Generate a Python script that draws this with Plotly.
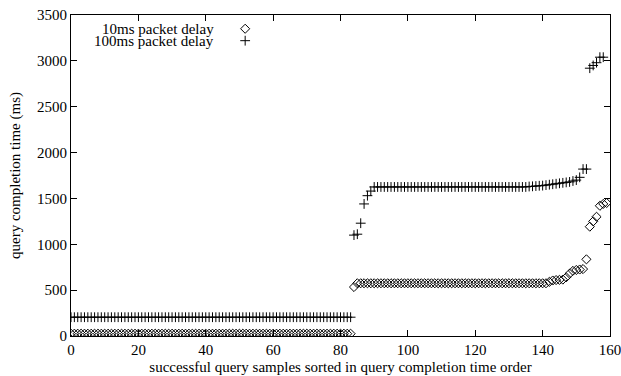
import plotly.graph_objects as go

# sample index 0..159
idx = list(range(160))

delay10 = ([25] * 84 + [534] + [575] * 57 +
           [590, 605, 610, 612, 615, 640, 680, 710, 720, 725, 730,
            836, 1192, 1250, 1300, 1420, 1440, 1450])

delay100 = ([205] * 84 + [1100, 1110, 1230, 1440, 1530, 1580] +
            [1625] * 46 +
            [1630, 1632, 1635, 1638, 1640, 1645, 1650, 1655, 1660, 1665,
             1670, 1675, 1680, 1690, 1700, 1730, 1820, 1820,
             2920, 2950, 2980, 3040, 3040])

names = ["10ms packet delay", "100ms packet delay"]
# legend key positions in axis units
legend_key_x = [51.7, 51.7]
legend_key_y = [3350, 3220]

FONT = "Liberation Serif"

fig = go.Figure()
fig.add_trace(go.Scatter(x=idx, y=delay10, mode="markers", name=names[0],
                         marker=dict(symbol="diamond-open", size=7, color="black",
                                     line=dict(width=1, color="black"))))
fig.add_trace(go.Scatter(x=idx, y=delay100, mode="markers", name=names[1],
                         marker=dict(symbol="cross-thin-open", size=7, color="black",
                                     line=dict(width=1, color="black"))))
# legend keys (gnuplot style: text then symbol)
fig.add_trace(go.Scatter(x=[legend_key_x[0]], y=[legend_key_y[0]],
                         mode="markers", showlegend=False, hoverinfo="skip",
                         marker=dict(symbol="diamond-open", size=7, color="black",
                                     line=dict(width=1, color="black"))))
fig.add_trace(go.Scatter(x=[legend_key_x[1]], y=[legend_key_y[1]],
                         mode="markers", showlegend=False, hoverinfo="skip",
                         marker=dict(symbol="cross-thin-open", size=7, color="black",
                                     line=dict(width=1, color="black"))))

for i in range(2):
    fig.add_annotation(x=legend_key_x[i] - 8.6, y=legend_key_y[i], xref="x", yref="y",
                       text=names[i], showarrow=False, xanchor="right", yanchor="middle",
                       font=dict(family=FONT, size=15, color="black"))

axis_common = dict(showline=True, linecolor="black", linewidth=1, mirror="ticks",
                   ticks="inside", ticklen=6, tickcolor="black", tickwidth=1,
                   showgrid=False, zeroline=False, automargin=False,
                   ticklabeloverflow="allow",
                   tickfont=dict(family=FONT, size=15, color="black"))

fig.update_layout(
    width=621, height=376,
    margin=dict(l=71, r=11, t=15, b=40),
    paper_bgcolor="white", plot_bgcolor="white",
    showlegend=False,
    font=dict(family=FONT, size=15, color="black"),
    xaxis=dict(range=[0, 160], dtick=20, tick0=0,
               title=dict(text="successful query samples sorted in query completion time order",
                          font=dict(family=FONT, size=15), standoff=4),
               **axis_common),
    yaxis=dict(range=[0, 3500], dtick=500, tick0=0,
               title=dict(text="query completion time (ms)",
                          font=dict(family=FONT, size=15), standoff=12),
               **axis_common),
)

fig.write_html("out.html", config={"displayModeBar": False},
               post_script="document.body.style.margin='0px';document.body.style.overflow='hidden';")
